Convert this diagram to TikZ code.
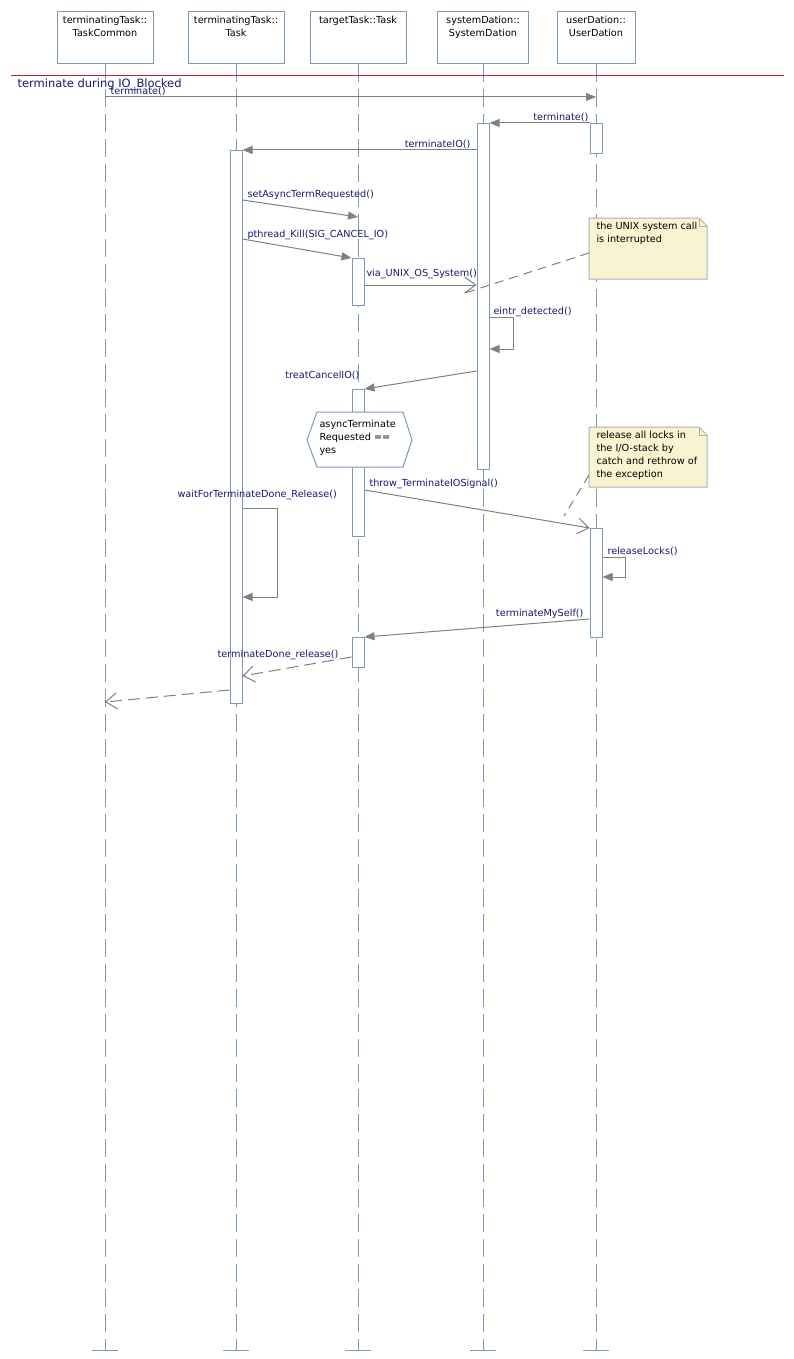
\documentclass[tikz,border=0pt]{standalone}
\usepackage{fontspec}
\setmainfont{DejaVu Sans}
\usetikzlibrary{arrows.meta,positioning}
\definecolor{lifeblue}{RGB}{122,155,185}
\definecolor{msggray}{RGB}{128,128,128}
\definecolor{msgtext}{RGB}{25,25,110}
\definecolor{framered}{RGB}{200,30,40}
\definecolor{notefill}{RGB}{250,243,210}
\definecolor{noteline}{RGB}{175,175,175}
\tikzset{
  headbox/.style={draw=lifeblue, fill=white, minimum height=52pt, anchor=north, inner sep=0pt},
  headtext/.style={align=center, inner sep=0pt, anchor=north},
  lifeline/.style={draw=lifeblue, dash pattern=on 18pt off 7pt},
  bar/.style={draw=lifeblue, fill=white, minimum width=12pt, inner sep=0pt, anchor=north},
  msg/.style={draw=msggray, -{Triangle[length=10pt,width=8pt]}},
  asyncmsg/.style={draw=msggray, -{Straight Barb[length=11pt,width=16pt]}},
  reply/.style={asyncmsg, dash pattern=on 12pt off 6pt},
  lbl/.style={text=msgtext, inner sep=0pt, anchor=base west},
  lblr/.style={lbl, anchor=base east},
  notearea/.style={minimum width=117pt, inner sep=0pt, anchor=north west},
  noteshape/.style={draw=noteline, fill=notefill},
  notetext/.style={align=left, inner sep=0pt, anchor=north west},
  notelink/.style={draw=msggray, dash pattern=on 9pt off 6pt}
}
\begin{document}
\begin{tikzpicture}[x=1pt, y=-1pt, line width=1pt, font=\fontsize{9.7}{13}\selectfont]
\useasboundingbox[fill=white] (0,0) rectangle (794,1359);
% lifelines with header boxes
\foreach \n/\x/\w/\txt in {tc/105/96/{terminatingTask::\\TaskCommon}, tk/236/96/{terminatingTask::\\Task}, tt/358/96/{targetTask::Task}, sd/483/91/{systemDation::\\SystemDation}, ud/596/78/{userDation::\\UserDation}}
{
	\node[headbox, minimum width=\w pt] (\n) at (\x,11) {};
	\node[headtext] (\n-name) at (\x,15.5) {\txt};
	\draw[lifeline] (\n.south) -- ++(0,1286) coordinate (\n-end);
	\draw[lifeblue] ([xshift=-13pt]\n-end) -- ([xshift=13pt]\n-end);
}
% combined fragment
\draw[framered] (11,76) -- (784,76);
\node[lbl, font=\fontsize{11.5}{14}\selectfont] (frame) at (17,88) {terminate during IO\_Blocked};
% activations
\node[bar, minimum height=553pt] (tkBar) at (236,150) {};
\node[bar, minimum height=346pt] (sdBar) at (483,123) {};
\node[bar, minimum height=30pt] (udBar1) at (596,123) {};
\node[bar, minimum height=47pt] (ttBar1) at (358,258) {};
\node[bar, minimum height=147pt] (ttBar2) at (358,389) {};
\node[bar, minimum height=109pt] (udBar2) at (596,528) {};
\node[bar, minimum height=30pt] (ttBar3) at (358,637) {};
% messages
\draw[msg] (tc.south |- 0,97) -- (ud.south |- 0,97);
\node[lbl] (m1) at (110,95) {terminate()};
\draw[msg] (udBar1.north west) -- (sdBar.north east);
\node[lblr] (m2) at (589,121) {terminate()};
\draw[msg] (sdBar.west |- 0,150) -- (tkBar.north east);
\node[lblr] (m3) at (471,148) {terminateIO()};
\draw[msg] (tkBar.east |- 0,200) -- (tt.south |- 0,217);
\node[lbl] (m4) at (247,197) {setAsyncTermRequested()};
\draw[msg] (tkBar.east |- 0,239) -- (ttBar1.north west);
\node[lbl] (m5) at (247,237) {pthread\_Kill(SIG\_CANCEL\_IO)};
\draw[asyncmsg] (ttBar1.east |- 0,285) -- (sdBar.west |- 0,285);
\node[lbl] (m6) at (366,276) {via\_UNIX\_OS\_System()};
\draw[msg] (sdBar.east |- 0,317) -- ++(24,0) |- (sdBar.east |- 0,349);
\node[lbl] (m7) at (493,314) {eintr\_detected()};
\draw[msg] (sdBar.west |- 0,371) -- (ttBar2.north east);
\node[lblr] (m8) at (360,378) {treatCancelIO()};
% guard
\draw[draw=lifeblue, fill=white] (307,440) -- (317,412) -- (403,412) -- (412,440) -- (403,467) -- (317,467) -- cycle;
\node[notetext] (guard) at (319,420) {asyncTerminate\\Requested ==\\yes};
\draw[asyncmsg] (ttBar2.east |- 0,490) -- (udBar2.north west);
\node[lbl] (m9) at (369,486) {throw\_TerminateIOSignal()};
\draw[msg] (tkBar.east |- 0,508) -- ++(35,0) |- (tkBar.east |- 0,597);
\node[lbl] (m10) at (177,497) {waitForTerminateDone\_Release()};
\draw[msg] (udBar2.east |- 0,557) -- ++(23,0) |- (udBar2.east |- 0,577);
\node[lbl] (m11) at (607,554) {releaseLocks()};
\draw[msg] (udBar2.west |- 0,619) -- (ttBar3.north east);
\node[lblr] (m12) at (584,616) {terminateMySelf()};
\draw[reply] (ttBar3.west |- 0,657) -- (tkBar.east |- 0,676);
\node[lblr] (m13) at (339,657) {terminateDone\_release()};
\draw[reply] (tkBar.west |- 0,690) -- (tc.south |- 0,702);
% notes
\node[notearea, minimum height=60pt] (note1) at (589,218) {};
\draw[noteshape] (note1.north west) -- ([xshift=-8pt]note1.north east) -- ([yshift=-8pt]note1.north east) -- (note1.south east) -- (note1.south west) -- cycle;
\draw[noteline] ([xshift=-8pt]note1.north east) -- ++(0,8) -- ++(8,0);
\node[notetext] (note1-text) at (596,221.5) {the UNIX system call\\is interrupted};
\coordinate (note1-tip) at (465,293);
\draw[notelink] (note1.west |- 0,253) -- (note1-tip);
\node[notearea, minimum height=59pt] (note2) at (589,427) {};
\draw[noteshape] (note2.north west) -- ([xshift=-8pt]note2.north east) -- ([yshift=-8pt]note2.north east) -- (note2.south east) -- (note2.south west) -- cycle;
\draw[noteline] ([xshift=-8pt]note2.north east) -- ++(0,8) -- ++(8,0);
\node[notetext] (note2-text) at (596,430.5) {release all locks in\\the I/O-stack by\\catch and rethrow of\\the exception};
\coordinate (note2-tip) at (564,516);
\draw[notelink] (note2.west |- 0,475) -- (note2-tip);
\end{tikzpicture}
\end{document}
